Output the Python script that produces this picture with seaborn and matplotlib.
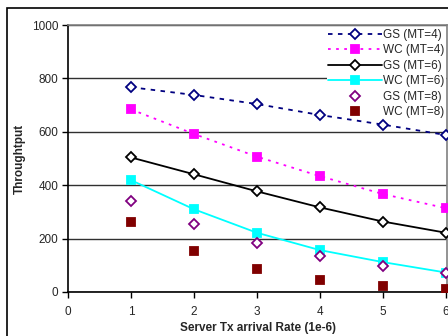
import matplotlib
matplotlib.use("Agg")
import matplotlib.pyplot as plt
import seaborn as sns
import pandas as pd
from matplotlib.patches import Rectangle

sns.set_theme(style="white")
plt.rcParams['font.family'] = ['Liberation Sans', 'DejaVu Sans']

rate = [1, 2, 3, 4, 5, 6]
gs_mt4 = [767, 738, 704, 663, 627, 588]
wc_mt4 = [684, 592, 507, 434, 367, 314]
gs_mt6 = [504, 441, 377, 317, 264, 222]
wc_mt6 = [419, 310, 222, 157, 112, 73]
gs_mt8 = [342, 255, 185, 133, 96, 71]
wc_mt8 = [263, 154, 85, 46, 22, 12]

series_names = ["GS (MT=4)", "WC (MT=4)", "GS (MT=6)", "WC (MT=6)", "GS (MT=8)", "WC (MT=8)"]
series_vals = [gs_mt4, wc_mt4, gs_mt6, wc_mt6, gs_mt8, wc_mt8]

df = pd.DataFrame({
    "rate": rate * len(series_names),
    "value": sum(series_vals, []),
    "series": [n for n in series_names for _ in rate],
})

styles = {
    "GS (MT=4)": dict(color="#000080", ls=(0, (2.5, 3)), marker="D", filled=False, line=True),
    "WC (MT=4)": dict(color="#FF00FF", ls=(0, (1.5, 3)), marker="s", filled=True, line=True),
    "GS (MT=6)": dict(color="#000000", ls="-", marker="D", filled=False, line=True),
    "WC (MT=6)": dict(color="#00FFFF", ls="-", marker="s", filled=True, line=True),
    "GS (MT=8)": dict(color="#800080", ls="none", marker="D", filled=False, line=False),
    "WC (MT=8)": dict(color="#800000", ls="none", marker="s", filled=True, line=False),
}

fig = plt.figure(figsize=(4.48, 3.36), dpi=100)
ax = fig.add_axes([68/448, 1-292/336, 379/448, 267/336])

handles = []
for name in series_names:
    st = styles[name]
    sub = df[df["series"] == name]
    ms = 6 if st["marker"] == "s" else 5
    kw = dict(marker=st["marker"], markersize=ms,
              markerfacecolor=(st["color"] if st["filled"] else "white"),
              markeredgecolor=st["color"], markeredgewidth=1.3)
    sns.lineplot(data=sub, x="rate", y="value", ax=ax, color=st["color"],
                 linestyle=st["ls"], linewidth=1.3, legend=False, zorder=3, **kw)
    h = plt.Line2D([], [], color=st["color"], linestyle=st["ls"], linewidth=1.3, **kw)
    handles.append(h)

ax.set_xlim(0, 6.02)
ax.set_ylim(0, 1000)
ax.set_xticks([0, 1, 2, 3, 4, 5, 6])
ax.set_yticks([0, 200, 400, 600, 800, 1000])
ax.yaxis.grid(True, color="#303030", linewidth=1.0)
ax.set_axisbelow(True)
ax.tick_params(axis="both", direction="out", length=4, width=1, color="black",
               labelsize=8.5, left=True, bottom=True)
ax.tick_params(axis="x", pad=6)
ax.tick_params(axis="y", pad=3)
for s in ["left", "bottom"]:
    ax.spines[s].set_color("black")
    ax.spines[s].set_linewidth(1.2)
for s in ["top", "right"]:
    ax.spines[s].set_color("#808080")
    ax.spines[s].set_linewidth(1.2)
ax.set_xlabel("Server Tx arrival Rate (1e-6)", fontsize=8.5, fontweight="bold", labelpad=3)
ax.set_ylabel("Throughtput", fontsize=8.5, fontweight="bold")
ax.yaxis.set_label_coords(-0.112, 0.5)

leg = ax.legend(handles, series_names, loc="upper right", bbox_to_anchor=(1.0, 0.995),
                fontsize=8.5, frameon=True, handlelength=4.6, labelspacing=0.3,
                handletextpad=0.1, borderaxespad=0.1, borderpad=0.1)
leg.get_frame().set_facecolor("white")
leg.get_frame().set_edgecolor("none")
leg.get_frame().set_alpha(1)
leg.set_zorder(2.5)

fig.patches.append(Rectangle((7/448, -0.1), 2, 1 - 8/336 + 0.1, transform=fig.transFigure,
                             fill=False, edgecolor="black", linewidth=1.2))

fig.savefig("out.png", dpi=100)
